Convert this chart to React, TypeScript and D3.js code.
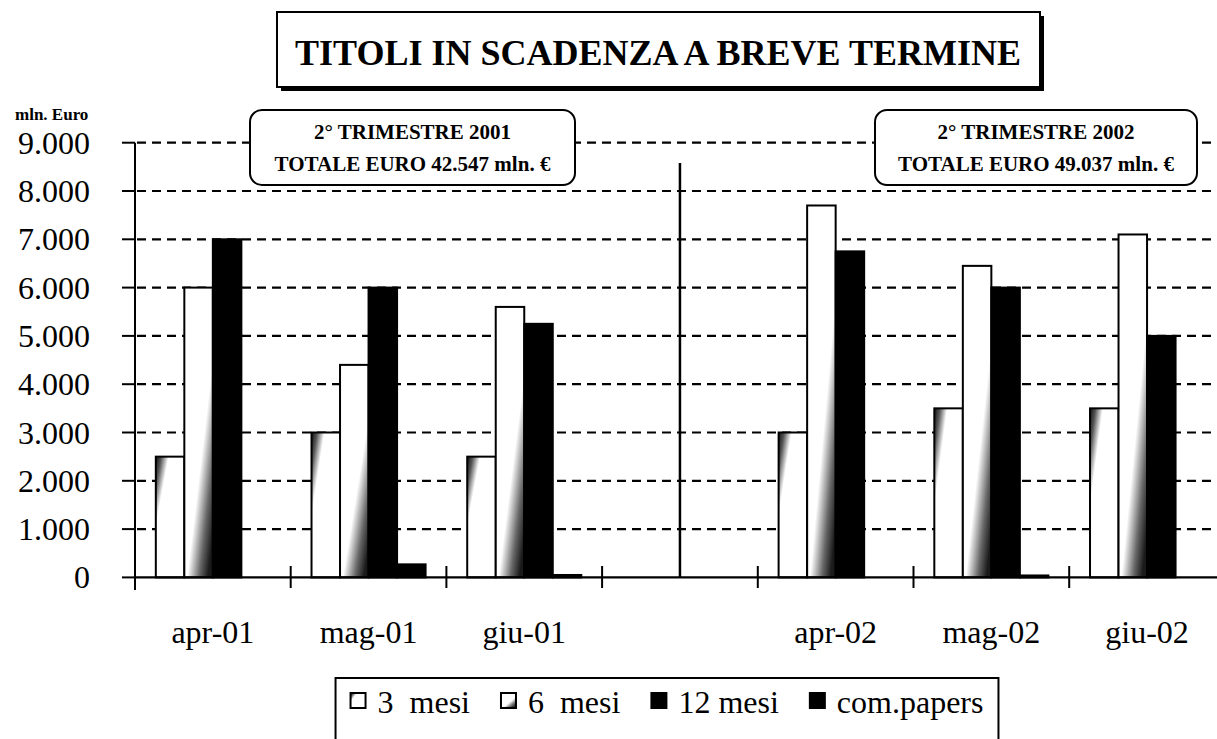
import React from "react";
import * as d3 from "d3";

const slotKeys = ["apr-01", "mag-01", "giu-01", "", "apr-02", "mag-02", "giu-02"];
const categories = ["apr-01", "mag-01", "giu-01", "apr-02", "mag-02", "giu-02"];
const mesi3 = [2500, 3000, 2500, 3000, 3500, 3500];
const mesi6 = [6000, 4400, 5600, 7700, 6450, 7100];
const mesi12 = [7000, 6000, 5250, 6750, 6000, 5000];
const comPapers = [0, 270, 50, 0, 40, 0];
const seriesNames = ["3  mesi", "6  mesi", "12 mesi", "com.papers"];
const yTicks = [0, 1000, 2000, 3000, 4000, 5000, 6000, 7000, 8000, 9000];
const titleText = "TITOLI IN SCADENZA A BREVE TERMINE";
const yUnit = "mln. Euro";
const notes = [
  ["2° TRIMESTRE 2001", "TOTALE EURO 42.547 mln. €"],
  ["2° TRIMESTRE 2002", "TOTALE EURO 49.037 mln. €"],
];

const W = 1217;
const H = 739;
const FONT = '"Liberation Serif", "DejaVu Serif", "Times New Roman", serif';

const fills = ["url(#g3)", "url(#g6)", "#000", "#000"];
const seriesData = [mesi3, mesi6, mesi12, comPapers];

const it = d3.formatLocale({ decimal: ",", thousands: ".", grouping: [3], currency: ["", "€"] });
const fmt = it.format(",");

function measure(text: string, font: string): number {
  const c = document.createElement("canvas").getContext("2d");
  if (!c) return text.length * 14;
  c.font = font;
  return c.measureText(text).width;
}

const T = (props: any) => <text {...props} style={{ fontFamily: FONT, ...(props.style || {}) }} />;

export default function App() {
  const left = 135;
  const baseY = 577.4;
  const topY = 142.7;
  const slotName = (k: string, i: number) => k || "gap" + i;
  const xSlot = d3.scaleBand<string>().domain(slotKeys.map((k, i) => slotName(k, i))).range([left, left + 7 * 155.7]).padding(0);
  const xInner = d3.scaleBand<number>().domain([0, 1, 2, 3]).range([0, xSlot.bandwidth()]).paddingInner(0).paddingOuter(0.73);
  const y = d3.scaleLinear().domain([0, 9000]).range([baseY, topY]);

  const legendFont = `32px ${FONT}`;
  const sq = 15, gap1 = 12, gap2 = 31;
  const widths = seriesNames.map((s) => measure(s, legendFont));
  const total = widths.reduce((a, b) => a + b, 0) + 4 * (sq + gap1) + 3 * gap2;
  const legStart = 667 - total / 2;
  let cx = legStart;
  const legItems = seriesNames.map((s, i) => {
    const item = { name: s, x: cx, tx: cx + sq + gap1 };
    cx += sq + gap1 + widths[i] + gap2;
    return item;
  });
  const legRight = legStart + total + 15;

  const gapSlot = xSlot(slotName("", 3))! + xSlot.bandwidth() / 2;
  const boundaries = slotKeys.slice(1).map((k, i) => xSlot(slotName(k, i + 1))!);

  return (
    <svg width={W} height={H} style={{ position: "absolute", left: 0, top: 0, background: "#fff", fontFamily: FONT }}>
      <defs>
        <linearGradient id="g3" x1="0" y1="0" x2="1" y2="0.79">
          <stop offset="0" stopColor="#111" />
          <stop offset="0.12" stopColor="#555" />
          <stop offset="0.28" stopColor="#fff" />
          <stop offset="1" stopColor="#fff" />
        </linearGradient>
        <linearGradient id="g6" x1="0" y1="0" x2="0.83" y2="1">
          <stop offset="0" stopColor="#fff" />
          <stop offset="0.64" stopColor="#fff" />
          <stop offset="0.85" stopColor="#666" />
          <stop offset="1" stopColor="#1a1a1a" />
        </linearGradient>
      </defs>
      <rect width={W} height={H} fill="#fff" />

      {yTicks.slice(1).map((t) => (
        <line key={t} x1={left + 2} x2={W} y1={y(t)} y2={y(t)} stroke="#000" strokeWidth={2.2} strokeDasharray="9,6" />
      ))}

      {categories.map((c, ci) => {
        const si = slotKeys.indexOf(c);
        const x0 = xSlot(slotName(c, si))!;
        return seriesData.map((arr, s) => {
          const v = arr[ci];
          if (!v) return null;
          return (
            <rect key={c + s} x={x0 + xInner(s)!} y={y(v)} width={xInner.bandwidth()} height={baseY - y(v)}
              fill={fills[s]} stroke="#000" strokeWidth={2} />
          );
        });
      })}

      <line x1={gapSlot} x2={gapSlot} y1={163} y2={baseY} stroke="#000" strokeWidth={2.5} />

      <line x1={left} x2={left} y1={topY} y2={590} stroke="#000" strokeWidth={2} />
      <line x1={left} x2={W} y1={baseY} y2={baseY} stroke="#000" strokeWidth={2.2} />
      {yTicks.map((t) => (
        <line key={"yt" + t} x1={122} x2={left} y1={y(t)} y2={y(t)} stroke="#000" strokeWidth={2} />
      ))}
      {boundaries.map((bx, i) => (
        <line key={"xt" + i} x1={bx} x2={bx} y1={566} y2={588} stroke="#000" strokeWidth={2} />
      ))}
      {yTicks.map((t) => (
        <T key={"yl" + t} x={90} y={y(t) + 11} textAnchor="end" fontSize={32}>{fmt(t)}</T>
      ))}
      {categories.map((c) => {
        const si = slotKeys.indexOf(c);
        return (
          <T key={"xl" + c} x={xSlot(slotName(c, si))! + xSlot.bandwidth() / 2} y={643} textAnchor="middle" fontSize={32}>{c}</T>
        );
      })}
      <T x={15} y={120} fontSize={17} fontWeight="bold">{yUnit}</T>

      {notes.map((n, i) => {
        const bx = i === 0 ? 250 : 875;
        const bw = i === 0 ? 325 : 322;
        return (
          <g key={"n" + i}>
            <rect x={bx} y={110} width={bw} height={75} rx={12} ry={12} fill="#fff" stroke="#000" strokeWidth={2} />
            <T x={bx + bw / 2} y={139} textAnchor="middle" fontSize={21} fontWeight="bold">{n[0]}</T>
            <T x={bx + bw / 2} y={171} textAnchor="middle" fontSize={21} fontWeight="bold">{n[1]}</T>
          </g>
        );
      })}

      <rect x={281} y={16} width={763} height={75} fill="#000" />
      <rect x={277} y={12} width={763} height={75} fill="#fff" stroke="#000" strokeWidth={2} />
      <T x={658} y={65} textAnchor="middle" fontSize={36} fontWeight="bold">{titleText}</T>

      <rect x={legStart - 15} y={678} width={legRight - (legStart - 15)} height={90} fill="#fff" stroke="#000" strokeWidth={2} />
      {legItems.map((li, i) => (
        <g key={"lg" + i}>
          <rect x={li.x} y={693} width={sq} height={sq} fill={fills[i]} stroke="#000" strokeWidth={2} />
          <T x={li.tx} y={713} fontSize={32} style={{ whiteSpace: "pre" }}>{li.name}</T>
        </g>
      ))}
    </svg>
  );
}
